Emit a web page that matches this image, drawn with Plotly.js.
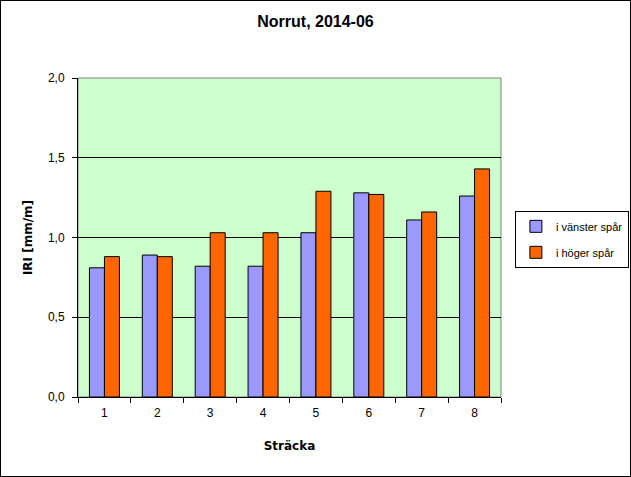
<!DOCTYPE html>
<html>
<head>
<meta charset="utf-8">
<script src="https://cdn.plot.ly/plotly-3.0.1.min.js"></script>
<style>
html,body{margin:0;padding:0;background:#fff;}
#chart{width:631px;height:477px;}
#frame{position:absolute;left:0;top:0;width:631px;height:477px;box-sizing:border-box;border:1px solid #000;pointer-events:none;}
</style>
</head>
<body>
<div id="chart"></div>
<div id="frame"></div>
<script>
const categories = ["1","2","3","4","5","6","7","8"];
const vanster = [0.81, 0.89, 0.82, 0.82, 1.03, 1.28, 1.11, 1.26];
const hoger = [0.88, 0.88, 1.03, 1.03, 1.29, 1.27, 1.16, 1.43];
const seriesNames = ["i vänster spår", "i höger spår"];
const yTicks = [0, 0.5, 1.0, 1.5, 2.0];

const font = "Liberation Sans, Arial, sans-serif";
const tfont = "DejaVu Sans, Verdana, sans-serif";
const traces = [
  {type:"bar", x:categories, y:vanster, name:seriesNames[0], legendgroup:"a",
   marker:{color:"#9999FF", line:{color:"#000", width:1}}},
  {type:"bar", x:categories, y:hoger, name:seriesNames[1], legendgroup:"b",
   marker:{color:"#FF6600", line:{color:"#000", width:1}}}
];
const layout = {
  width:631, height:477,
  margin:{l:78, r:130, t:78, b:80, pad:0},
  paper_bgcolor:"#fff", plot_bgcolor:"#CCFFCC",
  font:{family:font, size:11, color:"#000"},
  separators:",.",
  title:{text:"<b>Norrut, 2014-06</b>", font:{family:font, size:16, color:"#000"}, x:0.5, xanchor:"center", y:0.955, yanchor:"middle"},
  barmode:"group", bargap:0.433, bargroupgap:0,
  showlegend:true,
  legend:{xref:"container", yref:"container", x:0.816, xanchor:"left", y:0.558, yanchor:"top", bordercolor:"#000", borderwidth:1,
    bgcolor:"#fff", font:{family:font, size:11, color:"#000"}, traceorder:"grouped", tracegroupgap:7, itemwidth:30},
  xaxis:{type:"category", ticks:"outside", tickson:"boundaries", ticklen:5, tickcolor:"#000",
    showline:true, linecolor:"#000", linewidth:1, showgrid:false, mirror:false,
    ticklabelstandoff:5,
    title:{text:"<b>Sträcka</b>", font:{family:tfont, size:12, color:"#000"}, standoff:22},
    tickfont:{family:font, size:12}},
  yaxis:{range:[0,2], tickvals:yTicks, tickformat:".1f", ticks:"outside", ticklen:5, tickcolor:"#000",
    showline:true, linecolor:"#000", linewidth:1, showgrid:true, gridcolor:"#000", gridwidth:1,
    ticklabelstandoff:5,
    zeroline:false, title:{text:"<b>IRI [mm/m]</b>", font:{family:tfont, size:12, color:"#000"}, standoff:12},
    tickfont:{family:font, size:12}},
  shapes:[{type:"rect", xref:"paper", yref:"paper", x0:0, x1:1, y0:0, y1:1, line:{color:"#808080", width:1}, layer:"below"}]
};
Plotly.newPlot("chart", traces, layout, {staticPlot:true, displayModeBar:false});
</script>
</body>
</html>
